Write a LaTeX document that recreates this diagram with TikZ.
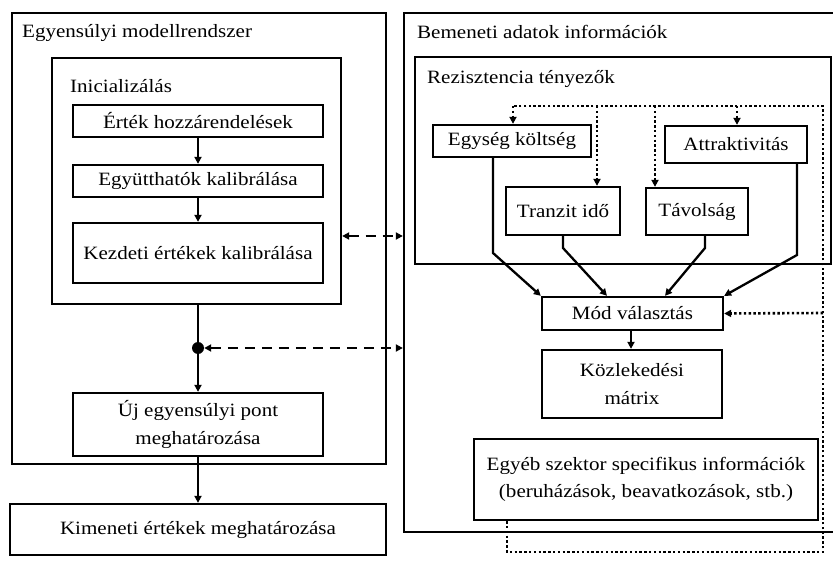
\documentclass[tikz,border=0pt]{standalone}
\usepackage{fontspec}
\setmainfont{Liberation Serif}[FakeStretch=1.12]
\usetikzlibrary{arrows.meta,calc}
\begin{document}
\begin{tikzpicture}[x=1pt,y=-1pt,
  every node/.style={font=\fontsize{18.8}{27.5}\selectfont},
  box/.style={draw, line width=2.3pt, inner sep=0pt, align=center},
  ttl/.style={anchor=base west, inner sep=0pt},
  conn/.style={line width=2.3pt},
  dsh/.style={line width=2.3pt, dash pattern=on 10pt off 7pt},
  dtt/.style={line width=2.6pt, dash pattern=on 2.4pt off 2.4pt},
  >={Triangle[length=7pt,width=7pt]}]
\useasboundingbox (0,0) rectangle (833,569);
\fill[white] (0,0) rectangle (833,569);

% left side
\node[box, minimum width=374pt, minimum height=451pt] (outerL) at (199,238.5) {};
\node[ttl] (tL) at (22,38) {Egyensúlyi modellrendszer};
\node[box, minimum width=289pt, minimum height=246pt] (init) at (196.5,181) {};
\node[ttl] (tI) at (70,93) {Inicializálás};
\node[box, minimum width=250pt, minimum height=32pt] (ertek) at (198,121) {Érték hozzárendelések};
\node[box, minimum width=250pt, minimum height=32pt] (egyutt) at (198,181) {Együtthatók kalibrálása};
\node[box, minimum width=250pt, minimum height=60pt] (kezdeti) at (198,253) {Kezdeti értékek kalibrálása};
\node[circle, fill, inner sep=0pt, minimum size=12pt] (dot) at (198,348) {};
\node[box, minimum width=250pt, minimum height=63pt] (uj) at (198,424.5) {Új egyensúlyi pont\\meghatározása};
\node[box, minimum width=376pt, minimum height=51pt] (kim) at (198,529.5) {Kimeneti értékek meghatározása};

% right side
\node[box, minimum width=440pt, minimum height=519pt] (outerR) at (624,272.5) {};
\node[ttl] (tR) at (417,39) {Bemeneti adatok információk};
\node[box, minimum width=416pt, minimum height=207pt] (rez) at (623,160.5) {};
\node[ttl] (tZ) at (427,84) {Rezisztencia tényezők};
\node[box, minimum width=158pt, minimum height=32pt] (egys) at (512,141) {Egység költség};
\node[box, minimum width=142pt, minimum height=37pt] (attr) at (736,144.5) {Attraktivitás};
\node[box, minimum width=114pt, minimum height=48pt] (tranz) at (563,211) {Tranzit idő};
\node[box, minimum width=102pt, minimum height=47pt] (tav) at (697,211.5) {Távolság};
\node[box, minimum width=181pt, minimum height=33pt] (mod) at (632.5,313.5) {Mód választás};
\node[box, minimum width=180pt, minimum height=68pt] (kozl) at (632,384) {Közlekedési\\mátrix};
\node[box, minimum width=344pt, minimum height=81pt] (egyeb) at (646,479.5) {Egyéb szektor specifikus információk\\(beruházások, beavatkozások, stb.)};

% left connectors
\draw[conn,->] (ertek) -- (egyutt);
\draw[conn,->] (egyutt) -- (kezdeti);
\draw[conn] (init.south -| dot) -- (dot);
\draw[conn,->] (dot) -- (uj);
\draw[conn,->] (uj) -- (kim);
\draw[dsh,<->] (init.east |- 0,236) -- (outerR.west |- 0,236);
\draw[dsh,<->] (dot.east) -- (outerR.west |- dot);

% solid connectors to Mód választás
\draw[conn,->] (egys.south -| 493,0) -- (493,253) -- (mod.north west);
\draw[conn,->] (tranz.south) -- (563,248) -- (mod.north -| 607,0);
\draw[conn,->] (tav.south -| 705,0) -- (705,248) -- (mod.north -| 665,0);
\draw[conn,->] (attr.south -| 797,0) -- (797,255) -- (mod.north east);
\draw[conn,->] (mod.south -| 631,0) -- (kozl.north -| 631,0);

% dotted feedback network
\coordinate (tr) at (823,106);
\coordinate (br) at (823,552);
\coordinate (bl) at (507,552);
\draw[dtt] (egyeb.south -| bl) -- (bl) -- (br) -- (tr) -- (513,106);
\draw[dtt,->] (513,106) -- (egys.north -| 513,0);
\draw[dtt,->] (597,106) -- (tranz.north -| 597,0);
\draw[dtt,->] (655,106) -- (tav.north -| 655,0);
\draw[dtt,->] (737,106) -- (attr.north -| 737,0);
\draw[dtt,->] (823,313) -- (mod.east);
\end{tikzpicture}
\end{document}
